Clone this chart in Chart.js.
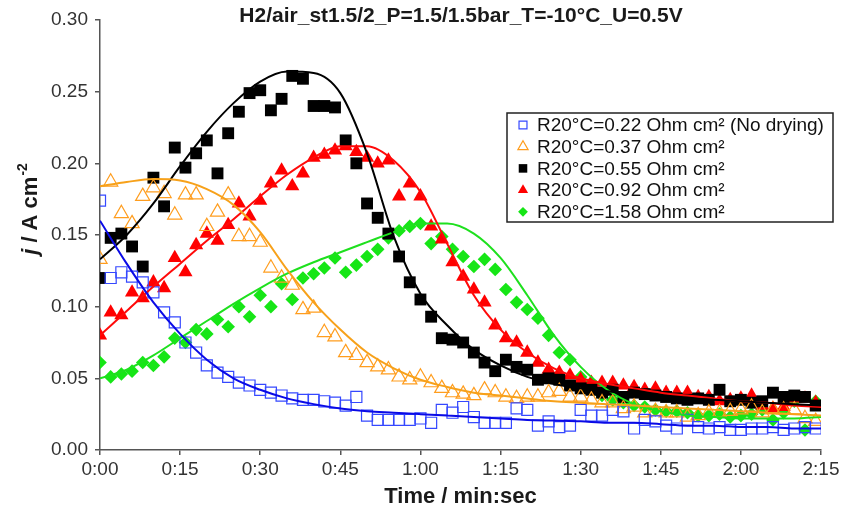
<!DOCTYPE html>
<html>
<head>
<meta charset="utf-8">
<script src="https://cdn.jsdelivr.net/npm/chart.js@4.4.1/dist/chart.umd.min.js"></script>
<style>
  html, body { margin: 0; padding: 0; background: #fff; }
  #wrap { width: 845px; height: 520px; }
</style>
</head>
<body>
<div id="wrap"><canvas id="chart" width="845" height="520"></canvas></div>
<script>
// sample times in seconds (one reading every 2 s)
const times = [0,2,4,6,8,10,12,14,16,18,20,22,24,26,28,30,32,34,36,38,40,42,44,46,48,50,52,54,56,58,60,62,64,66,68,70,72,74,76,78,80,82,84,86,88,90,92,94,96,98,100,102,104,106,108,110,112,114,116,118,120,122,124,126,128,130,132,134];

const blueVals = [
  0.174,0.120,0.124,0.121,0.117,0.110,0.096,0.089,0.075,0.068,
  0.059,0.054,0.051,0.047,0.045,0.042,0.040,0.038,0.036,0.035,
  0.035,0.034,0.033,0.031,0.037,0.024,0.021,0.021,0.021,0.021,
  0.022,0.019,0.028,0.026,0.030,0.023,0.019,0.019,0.019,0.029,
  0.028,0.017,0.020,0.016,0.017,0.028,0.024,0.024,0.028,0.027,
  0.015,0.021,0.020,0.017,0.015,0.021,0.016,0.015,0.016,0.014,
  0.014,0.015,0.015,0.016,0.014,0.015,0.016,0.015];
const orangeVals = [
  0.133,0.187,0.165,0.158,0.177,0.183,0.179,0.164,0.178,0.178,
  0.156,0.166,0.178,0.149,0.149,0.145,0.127,0.120,0.115,0.098,
  0.099,0.082,0.079,0.068,0.066,0.061,0.058,0.056,0.051,0.049,
  0.051,0.047,0.043,0.040,0.039,0.038,0.042,0.040,0.037,0.036,
  0.037,0.037,0.040,0.041,0.037,0.037,0.035,0.033,0.033,0.029,
  0.030,0.026,0.027,0.026,0.026,0.023,0.024,0.026,0.026,0.027,
  0.028,0.030,0.026,0.028,0.028,0.028,0.022,0.020];
const blackVals = [
  0.120,0.148,0.151,0.142,0.128,0.190,0.170,0.211,0.197,0.207,
  0.216,0.193,0.221,0.236,0.249,0.251,0.237,0.245,0.261,0.259,
  0.240,0.240,0.239,0.216,0.200,0.172,0.162,0.151,0.135,0.117,
  0.105,0.093,0.078,0.077,0.075,0.068,0.061,0.055,0.063,0.058,
  0.056,0.049,0.050,0.049,0.045,0.043,0.042,0.040,0.042,0.037,
  0.040,0.039,0.038,0.037,0.036,0.035,0.036,0.035,0.042,0.034,
  0.035,0.033,0.034,0.040,0.037,0.038,0.037,0.031];
const redVals = [
  0.080,0.096,0.094,0.110,0.106,0.117,0.113,0.134,0.124,0.143,
  0.151,0.146,0.157,0.172,0.163,0.174,0.186,0.195,0.184,0.193,
  0.204,0.206,0.209,0.212,0.208,0.204,0.200,0.202,0.177,0.186,
  0.177,0.156,0.147,0.131,0.121,0.112,0.103,0.087,0.078,0.075,
  0.068,0.061,0.056,0.054,0.052,0.049,0.047,0.047,0.047,0.045,
  0.044,0.042,0.043,0.040,0.040,0.040,0.037,0.037,0.034,0.035,
  0.036,0.038,0.031,0.029,0.030,0.036,0.036,0.033];
const greenVals = [
  0.061,0.051,0.053,0.055,0.061,0.059,0.065,0.078,0.075,0.084,
  0.081,0.091,0.086,0.100,0.093,0.108,0.100,0.116,0.105,0.120,
  0.123,0.127,0.134,0.124,0.129,0.135,0.140,0.148,0.153,0.156,
  0.158,0.144,0.149,0.140,0.135,0.128,0.133,0.126,0.112,0.103,
  0.098,0.092,0.080,0.068,0.063,0.051,0.047,0.038,0.035,0.033,
  0.031,0.030,0.028,0.027,0.027,0.026,0.024,0.024,0.025,0.023,
  0.024,0.025,0.028,0.021,0.026,0.034,0.014,0.034];

// fitted curves, read every 5 s
const fitTimes = [0,5,10,15,20,25,30,35,40,45,50,55,60,65,70,75,80,85,90,95,100,105,110,115,120,125,130,135];
const blueFit   = [0.160,0.130,0.103,0.081,0.063,0.050,0.042,0.036,0.032,0.029,0.027,0.026,0.025,0.024,0.023,0.022,0.021,0.0205,0.020,0.019,0.019,0.018,0.017,0.017,0.016,0.016,0.015,0.015];
const orangeFit = [0.184,0.187,0.189,0.188,0.182,0.171,0.152,0.126,0.103,0.084,0.068,0.057,0.049,0.044,0.040,0.038,0.036,0.034,0.033,0.032,0.031,0.030,0.029,0.028,0.027,0.026,0.025,0.024];
const blackFit  = [0.133,0.150,0.172,0.198,0.222,0.242,0.257,0.264,0.263,0.249,0.207,0.149,0.109,0.087,0.070,0.059,0.051,0.046,0.043,0.041,0.039,0.037,0.036,0.035,0.034,0.033,0.032,0.031];
const redFit    = [0.080,0.097,0.114,0.130,0.146,0.161,0.177,0.192,0.204,0.212,0.212,0.202,0.180,0.144,0.108,0.084,0.068,0.057,0.050,0.046,0.043,0.040,0.038,0.036,0.034,0.033,0.031,0.030];
const greenFit  = [0.050,0.056,0.066,0.078,0.090,0.102,0.113,0.123,0.131,0.138,0.145,0.152,0.158,0.158,0.151,0.134,0.108,0.080,0.058,0.042,0.032,0.027,0.024,0.023,0.022,0.022,0.022,0.023];

const seriesNames = [
  "R20°C=0.22 Ohm cm² (No drying)",
  "R20°C=0.37 Ohm cm²",
  "R20°C=0.55 Ohm cm²",
  "R20°C=0.92 Ohm cm²",
  "R20°C=1.58 Ohm cm²"
];
const xTickLabels = ["0:00","0:15","0:30","0:45","1:00","1:15","1:30","1:45","2:00","2:15"];

const FONT = "'Liberation Sans', Arial, Helvetica, sans-serif";

function pairs(xs, ys) {
  return xs.map((x, i) => ({ x: x, y: ys[i] }));
}

// marker look per series
const markers = [
  { style: "rect",     radius: 7.8, color: "#3548ff", fill: "rgba(0,0,0,0)", bw: 1.2 },
  { style: "triangle", radius: 8.2, color: "#ff9d1e", fill: "rgba(0,0,0,0)", bw: 1.2 },
  { style: "rect",     radius: 8.4, color: "#000000", fill: "#000000",       bw: 0 },
  { style: "triangle", radius: 8.2, color: "#ff0000", fill: "#ff0000",       bw: 0 },
  { style: "rectRot",  radius: 6.8, color: "#16e616", fill: "#16e616",       bw: 0 }
];
const lineColors = ["#0a0ae6", "#f7a11a", "#000000", "#ff0a0a", "#1ee01e"];

const pointSets = [blueVals, orangeVals, blackVals, redVals, greenVals];
const fitSets = [blueFit, orangeFit, blackFit, redFit, greenFit];

const datasets = [];
// fit lines first so they sit on top of the markers
fitSets.forEach((f, i) => {
  datasets.push({
    type: "line",
    data: pairs(fitTimes, f),
    borderColor: lineColors[i],
    borderWidth: 2,
    pointRadius: 0,
    cubicInterpolationMode: "monotone",
    fill: false
  });
});
pointSets.forEach((v, i) => {
  const m = markers[i];
  datasets.push({
    type: "scatter",
    label: seriesNames[i],
    data: pairs(times, v),
    pointStyle: m.style,
    pointRadius: m.radius,
    pointHoverRadius: m.radius,
    pointBorderWidth: m.bw,
    pointBorderColor: m.color,
    pointBackgroundColor: m.fill,
    showLine: false
  });
});

// title, y title and boxed legend
const decorations = {
  id: "decorations",
  afterDraw(chart) {
    const ctx = chart.ctx;
    ctx.save();
    ctx.fillStyle = "#1a1a1a";
    ctx.font = "bold 21px " + FONT;
    ctx.textAlign = "center";
    ctx.textBaseline = "middle";
    ctx.fillText("H2/air_st1.5/2_P=1.5/1.5bar_T=-10°C_U=0.5V", 461, 16);

    // y axis title: italic j, superscript -2
    ctx.translate(37, 209);
    ctx.rotate(-Math.PI / 2);
    ctx.textAlign = "left";
    ctx.textBaseline = "alphabetic";
    const f1 = "italic bold 22px " + FONT, f2 = "bold 22px " + FONT, f3 = "bold 14px " + FONT;
    ctx.font = f1; const w1 = ctx.measureText("j").width;
    ctx.font = f2; const w2 = ctx.measureText(" / A cm").width;
    ctx.font = f3; const w3 = ctx.measureText("-2").width;
    let x = -(w1 + w2 + w3 + 1) / 2;
    ctx.font = f1; ctx.fillText("j", x, 0); x += w1;
    ctx.font = f2; ctx.fillText(" / A cm", x, 0); x += w2 + 1;
    ctx.font = f3; ctx.fillText("-2", x, -10);
    ctx.restore();

    // legend box
    ctx.save();
    ctx.fillStyle = "#fff";
    ctx.fillRect(507, 113, 326, 109);
    ctx.strokeStyle = "#222";
    ctx.lineWidth = 1.5;
    ctx.strokeRect(507, 113, 326, 109);
    ctx.font = "19px " + FONT;
    ctx.textAlign = "left";
    ctx.textBaseline = "middle";
    seriesNames.forEach((name, i) => {
      const y = 125 + i * 21.7;
      const m = markers[i];
      ctx.fillStyle = m.fill;
      ctx.strokeStyle = m.color;
      ctx.lineWidth = m.bw || 1;
      Chart.helpers.drawPoint(ctx, { pointStyle: m.style, radius: m.radius * 0.72, borderWidth: m.bw, rotation: 0 }, 523, y);
      ctx.fillStyle = "#111";
      ctx.fillText(name, 537, y + 1);
    });
    ctx.restore();
  }
};

new Chart(document.getElementById("chart"), {
  type: "scatter",
  data: { datasets: datasets },
  plugins: [decorations],
  options: {
    responsive: false,
    animation: false,
    events: [],
    layout: { padding: { top: 20, right: 24, bottom: 0, left: 0 } },
    plugins: {
      legend: { display: false },
      title: { display: false },
      tooltip: { enabled: false }
    },
    scales: {
      x: {
        type: "linear",
        min: 0,
        max: 135,
        afterFit: s => { s.height = 70; },
        afterBuildTicks: s => { s.ticks = xTickLabels.map((_, i) => ({ value: i * 15 })); },
        ticks: {
          callback: (v, i) => xTickLabels[i],
          color: "#333",
          padding: 3,
          maxRotation: 0,
          font: { family: FONT, size: 19 }
        },
        grid: { drawOnChartArea: false, drawTicks: true, tickLength: 5, color: "#555", lineWidth: 1.5 },
        border: { color: "#555", width: 1.5 },
        title: {
          display: true,
          text: "Time / min:sec",
          color: "#1a1a1a",
          font: { family: FONT, size: 22, weight: "bold" },
          padding: { top: 0, bottom: 10 }
        }
      },
      y: {
        min: 0,
        max: 0.3,
        afterFit: s => { s.width = 100; },
        ticks: {
          stepSize: 0.05,
          callback: v => v.toFixed(2),
          color: "#333",
          padding: 7,
          font: { family: FONT, size: 19 }
        },
        grid: { drawOnChartArea: false, drawTicks: true, tickLength: 5, color: "#555", lineWidth: 1.5 },
        border: { color: "#555", width: 1.5 }
      }
    }
  }
});
</script>
</body>
</html>
